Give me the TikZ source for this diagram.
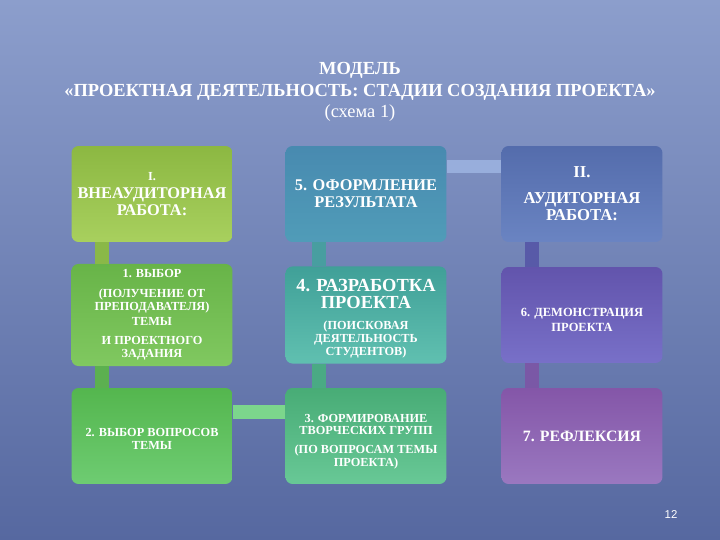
\documentclass[tikz,border=0pt]{standalone}
\usepackage{fontspec}
\setmainfont{Liberation Serif}
\newfontfamily\numfont{Liberation Sans}
\usepackage{tikz}

\newcommand{\smalltxt}{\fontsize{7}{7.2}\selectfont}

\definecolor{bgtop}{RGB}{140,158,204}
\definecolor{bgbot}{RGB}{86,104,160}

\begin{document}
\begin{tikzpicture}[x=0.02cm, y=-0.02cm]
    % Styles
    \tikzstyle{stage} = [rectangle, rounded corners=4pt, minimum width=3.22cm, minimum height=1.92cm, align=center, text=white, font=\bfseries\fontsize{7}{7.2}\selectfont]
    \tikzstyle{bigstage} = [stage, font=\bfseries\fontsize{9.3}{9.8}\selectfont]
    \tikzstyle{link} = [line width=0.28cm]

    % Background
    \shade[top color=bgtop, bottom color=bgbot] (0,0) rectangle (720,540);

    % Title
    \node[align=center, text=white, font=\fontsize{10.5}{12.3}\selectfont] (title) at (360,92)
        {\textbf{МОДЕЛЬ}\\ \textbf{«ПРОЕКТНАЯ ДЕЯТЕЛЬНОСТЬ: СТАДИИ СОЗДАНИЯ ПРОЕКТА»}\\ (схема 1)};

    % Nodes
    \node[bigstage, top color={rgb,255:red,140;green,184;blue,66}, bottom color={rgb,255:red,168;green,208;blue,94}] (I) at (152,194)
        {{\smalltxt I.}\\[0.4pt] ВНЕАУДИТОРНАЯ\\ РАБОТА:};
    \node[stage, top color={rgb,255:red,104;green,180;blue,72}, bottom color={rgb,255:red,128;green,200;blue,96}] (B1) at (152,315)
        {1. ВЫБОР\\[4pt] (ПОЛУЧЕНИЕ ОТ\\ ПРЕПОДАВАТЕЛЯ)\\[1.3pt] ТЕМЫ\\[4pt] И ПРОЕКТНОГО\\ ЗАДАНИЯ};
    \node[stage, top color={rgb,255:red,84;green,182;blue,78}, bottom color={rgb,255:red,110;green,204;blue,114}] (B2) at (152,436)
        {\rule{0pt}{7.6pt}2. ВЫБОР ВОПРОСОВ\\ ТЕМЫ};
    \node[stage, top color={rgb,255:red,72;green,172;blue,118}, bottom color={rgb,255:red,104;green,200;blue,150}] (B3) at (366,436)
        {\rule{0pt}{11pt}3. ФОРМИРОВАНИЕ\\ ТВОРЧЕСКИХ ГРУПП\\[3.5pt] (ПО ВОПРОСАМ ТЕМЫ\\ ПРОЕКТА)};
    \node[bigstage, font=\bfseries\fontsize{10.5}{9.4}\selectfont, top color={rgb,255:red,64;green,160;blue,152}, bottom color={rgb,255:red,96;green,192;blue,176}] (B4) at (366,315)
        {\rule{0pt}{11pt}4. РАЗРАБОТКА\\ ПРОЕКТА\\[2.5pt] \smalltxt (ПОИСКОВАЯ\\[-2pt] \smalltxt ДЕЯТЕЛЬНОСТЬ\\[-2pt] \smalltxt СТУДЕНТОВ)};
    \node[bigstage, top color={rgb,255:red,72;green,138;blue,176}, bottom color={rgb,255:red,80;green,156;blue,184}] (B5) at (366,194)
        {5. ОФОРМЛЕНИЕ\\ РЕЗУЛЬТАТА};
    \node[bigstage, font=\bfseries\fontsize{9.5}{9.8}\selectfont, top color={rgb,255:red,84;green,108;blue,172}, bottom color={rgb,255:red,106;green,132;blue,194}] (II) at (582,194)
        {II.\\[4.9pt] АУДИТОРНАЯ\\ РАБОТА:};
    \node[stage, font=\bfseries\fontsize{7.1}{8.5}\selectfont, top color={rgb,255:red,98;green,84;blue,172}, bottom color={rgb,255:red,120;green,112;blue,200}] (B6) at (582,315)
        {\rule{0pt}{10pt}6. ДЕМОНСТРАЦИЯ\\ ПРОЕКТА};
    \node[stage, font=\bfseries\fontsize{9}{10}\selectfont, top color={rgb,255:red,132;green,86;blue,168}, bottom color={rgb,255:red,154;green,120;blue,192}] (B7) at (582,436)
        {7. РЕФЛЕКСИЯ};

    % Links
    \draw[link, draw={rgb,255:red,138;green,184;blue,72}] ([xshift=0.62cm]I.south west) -- ([xshift=0.62cm]B1.north west);
    \draw[link, draw={rgb,255:red,92;green,176;blue,80}] ([xshift=0.62cm]B1.south west) -- ([xshift=0.62cm]B2.north west);
    \draw[link, draw={rgb,255:red,124;green,214;blue,140}] ([yshift=-0.48cm]B2.north east) -- ([yshift=-0.48cm]B3.north west);
    \draw[link, draw={rgb,255:red,74;green,170;blue,132}] ([xshift=0.68cm]B4.south west) -- ([xshift=0.68cm]B3.north west);
    \draw[link, draw={rgb,255:red,72;green,158;blue,160}] ([xshift=0.68cm]B5.south west) -- ([xshift=0.68cm]B4.north west);
    \draw[link, line width=0.26cm, draw={rgb,255:red,152;green,174;blue,220}] ([yshift=-0.42cm]B5.north east) -- ([yshift=-0.42cm]II.north west);
    \draw[link, draw={rgb,255:red,88;green,90;blue,168}] ([xshift=0.62cm]II.south west) -- ([xshift=0.62cm]B6.north west);
    \draw[link, draw={rgb,255:red,122;green,88;blue,166}] ([xshift=0.62cm]B6.south west) -- ([xshift=0.62cm]B7.north west);

    % Page number
    \node[text=white, font=\numfont\fontsize{6.5}{7}\selectfont] (num) at (671,515) {12};
\end{tikzpicture}
\end{document}
